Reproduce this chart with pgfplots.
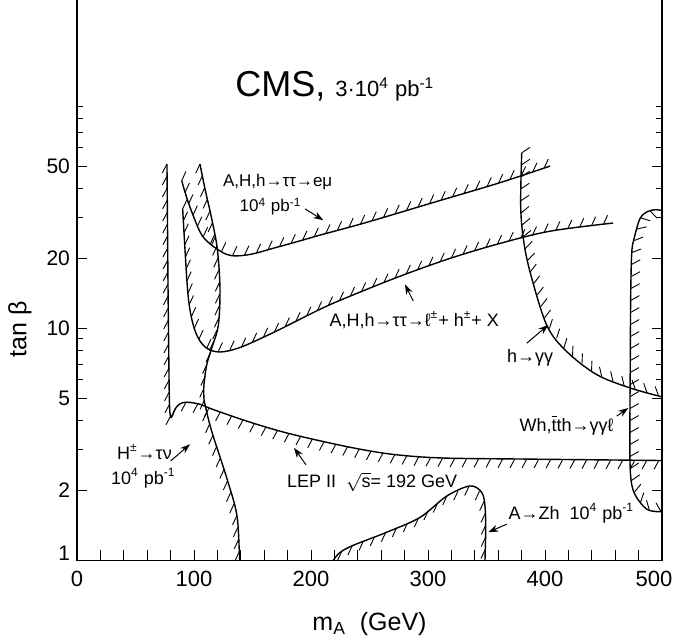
\documentclass[border=0pt]{standalone}
\usepackage{fontspec}
\setmainfont{Liberation Sans}
\usepackage{pgfplots}
\usepackage{pgfplotstable}
\pgfplotsset{compat=1.18}
\usetikzlibrary{arrows.meta,decorations.markings}

\tikzset{
  hcurve/.style={black, line width=0.7pt, smooth, tension=0.55},
  % hatch strokes in a fixed direction (degrees, page frame)
  hatchG/.style={postaction={decorate, decoration={markings,
      mark=between positions 0 and 1 step 6pt with {\pgftransformresetnontranslations
        \pgfsetlinewidth{0.45pt}\pgfsetstrokecolor{black}%
        \pgfpathmoveto{\pgfpointorigin}\pgfpathlineto{\pgfpointpolar{#1}{5pt}}\pgfusepath{stroke}}}}},
  % hatch strokes at an angle relative to the curve
  hatchR/.style={postaction={decorate, decoration={markings,
      mark=between positions 0 and 1 step 6pt with {%
        \pgfsetlinewidth{0.45pt}\pgfsetstrokecolor{black}%
        \pgfpathmoveto{\pgfpointorigin}\pgfpathlineto{\pgfpointpolar{#1}{5pt}}\pgfusepath{stroke}}}}},
  annot/.style={font=\fontsize{9}{11}\selectfont, inner sep=0pt, anchor=base west},
  annarr/.style={-{Stealth[length=5pt,width=3.5pt]}, line width=0.5pt},
}

% LEP II
\pgfplotstableread{
x y
76.9 51
77.3 30
77.8 15
78.4 8
78.8 5.4
79.3 4.4
80.2 4.13
81.5 4.2
84 4.5
88 4.72
94 4.8
105 4.7
116.5 4.46
145 3.98
173.5 3.6
202 3.32
236 3.05
265 2.88
293 2.79
322 2.75
380 2.73
440 2.71
500 2.69
}\leptab
% H+ -> tau nu
\pgfplotstableread{
x y
105.1 51
109.4 39.9
115.1 29.7
119.9 22
122.2 14.9
120.8 10.3
115.1 8.2
110.9 6.96
108.5 5.71
108.5 5.0
109.4 4.69
115.1 3.6
127.9 2.27
136.5 1.58
138.7 1.1
138.9 1.0
}\hptab
% A,H,h -> tau tau -> e mu
\pgfplotstableread{
x y
89.5 43.3
95 35
105 26.1
112 23.5
119.4 22.0
128 20.8
136.5 20.5
150 20.9
167.5 22.1
190.6 23.8
207.7 25.2
247.6 28.6
304.3 34.8
361.5 42.4
404.3 50.0
}\emutab
% A,H,h -> tau tau -> l + h + X
\pgfplotstableread{
x y
90.3 32.7
93.8 16.4
96 12.5
99.4 10.3
104 9.0
110.9 8.2
122.2 7.9
139.3 8.26
167.8 9.58
207.7 12.07
233.3 13.74
276.1 16.76
318.8 20.0
361.5 23.2
404.3 26.2
458.1 28.4
}\lhtab
% h -> gamma gamma
\pgfplotstableread{
x y
380.1 57
379.2 33.8
381.5 24.3
387.2 17.5
401.5 10.3
418.5 7.94
444.2 6.31
472.6 5.53
500 5.06
}\ggtab
% Wh, tth -> gamma gamma l
\pgfplotstableread{
x y
500 32.2
494 32.4
487.5 31.8
481.2 29.7
476.1 24.3
474.1 21
473.2 13.4
472.9 7.43
472.6 4.4
472.6 2.69
474.1 2.12
478.4 1.86
486.9 1.66
495.5 1.62
500 1.62
}\whtab
% A -> Zh
\pgfplotstableread{
x y
219.1 1.0
224.8 1.08
236.2 1.16
264.7 1.32
293.2 1.53
316 1.89
335.9 2.09
345.9 1.96
348.7 1.71
349.3 1.36
348.7 1.0
}\aztab

\begin{document}
\begin{tikzpicture}
\begin{axis}[
  scale only axis, width=292.5pt, height=280.5pt,
  xmin=0, xmax=500, ymode=log, ymin=1, ymax=262,
  xtick={0,20,...,500},
  xticklabels={0,,,,,100,,,,,200,,,,,300,,,,,400,,,,,\hspace*{-8pt}500},
  xtick pos=left,
  extra x ticks={100,200,300,400},
  extra x tick labels={},
  extra x tick style={grid=major,
    major grid style={black, line width=0.5pt, dash pattern=on 5pt off 400pt}},
  ytick={1,2,5,10,20,50},
  yticklabels={\raisebox{7pt}{1},2,5,10,20,50},
  minor ytick={3,4,6,7,8,9,30,40,60,70,80,90},
  tick align=inside,
  major tick length=5pt, minor tick length=3pt,
  tick style={black, line width=0.5pt},
  axis line style={line width=0.6pt},
  x tick label style={font=\fontsize{11}{13}\selectfont, yshift=-2pt},
  y tick label style={font=\fontsize{10.5}{12}\selectfont},
  xlabel={m\textsubscript{A}\ \ (GeV)},
  ylabel={tan β},
  xlabel style={font=\fontsize{12.5}{15}\selectfont, at={(axis description cs:0.5,-0.114)}, anchor=center},
  ylabel style={font=\fontsize{12.5}{15}\selectfont, at={(axis description cs:-0.0974,0.412)}, anchor=center},
  clip=true,
]
% curves
\addplot[hcurve] table {\leptab};
\addplot[hcurve] table {\hptab};
\addplot[hcurve] table {\emutab};
\addplot[hcurve] table {\lhtab};
\addplot[hcurve] table {\ggtab};
\addplot[hcurve] table {\whtab};
\addplot[hcurve] table {\aztab};
% hatching
\addplot[draw=none, hatchG=242] table {\leptab};
\addplot[draw=none, hatchG=245] table {\hptab};
\addplot[draw=none, hatchG=65] table {\emutab};
\addplot[draw=none, hatchG=65] table {\lhtab};
\addplot[draw=none, hatchR=125] table {\ggtab};
\addplot[draw=none, hatchR=120] table {\whtab};
\addplot[draw=none, hatchG=245] table {\aztab};

% title
\node[anchor=base west, inner sep=0pt] at (axis cs:135,100)
 {\fontsize{18}{22}\selectfont CMS, \fontsize{11}{13}\selectfont 3·10\textsuperscript{4} pb\textsuperscript{-1}};
% annotations
\node[annot, font=\fontsize{8.5}{10}\selectfont] at (axis cs:124.5,40.8) {A,H,h→ττ→eμ};
\node[annot, font=\fontsize{8.5}{10}\selectfont] at (axis cs:138.7,31.7) {10\textsuperscript{4} pb\textsuperscript{-1}};
\draw[annarr] (axis cs:194.9,32.7) -- (axis cs:210.5,29.2);
\node[annot] at (axis cs:215.6,10.2) {A,H,h→ττ→ℓ\textsuperscript{±}+ h\textsuperscript{±}+ X};
\draw[annarr] (axis cs:287.4,13.1) -- (axis cs:280.3,15.45);
\node[annot] at (axis cs:367.3,7.15) {h→γγ};
\draw[annarr] (axis cs:384.4,8.62) -- (axis cs:402.8,10.33);
\node[annot] at (axis cs:378,3.6) {Wh,\(\overline{\mbox{t}}\)th→γγℓ};
\draw[annarr] (axis cs:461.3,4.18) -- (axis cs:471.2,4.53);
\node[annot] at (axis cs:179.2,2.05) {LEP II \ \(\sqrt{\mbox{s}}\)= 192 GeV};
\draw[annarr] (axis cs:195.7,2.58) -- (axis cs:185.5,3.05);
\node[annot] at (axis cs:368.6,1.50) {A→Zh \ 10\textsuperscript{4} pb\textsuperscript{-1}};
\draw[annarr] (axis cs:367.3,1.43) -- (axis cs:351.5,1.32);
\node[annot] at (axis cs:33.9,2.72) {H\textsuperscript{±}→τν};
\node[annot] at (axis cs:28.8,2.12) {10\textsuperscript{4} pb\textsuperscript{-1}};
\draw[annarr] (axis cs:80.1,2.68) -- (axis cs:96.6,3.16);
\end{axis}
\pgfresetboundingbox
\useasboundingbox ([xshift=-38.5pt,yshift=-40.5pt]current axis.south west)
  rectangle ([xshift=6.5pt,yshift=-0.4pt]current axis.north east);
\end{tikzpicture}
\end{document}
